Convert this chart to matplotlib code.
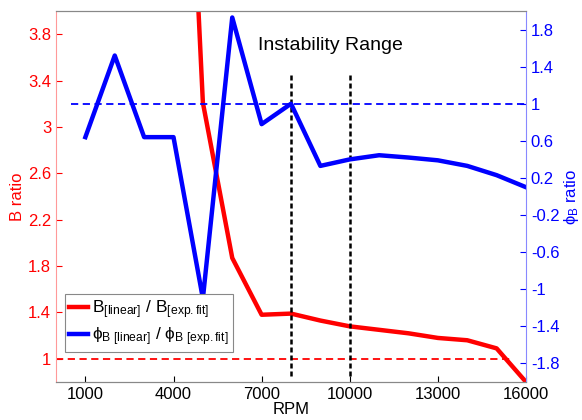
import numpy as np
import matplotlib
matplotlib.use("Agg")
import matplotlib.pyplot as plt

plt.rcParams['font.family'] = ['Liberation Sans', 'DejaVu Sans']
plt.rcParams['mathtext.fontset'] = 'custom'
plt.rcParams['mathtext.rm'] = 'Liberation Sans'
plt.rcParams['mathtext.it'] = 'Liberation Sans'

rpm = [1000, 2000, 3000, 4000, 5000, 6000, 7000, 8000,
       9000, 10000, 11000, 12000, 13000, 14000, 15000, 16000]
# B ratio (left axis)
b_ratio = [None, None, None, 8.5, 3.21, 1.87, 1.38, 1.39,
           1.33, 1.28, 1.25, 1.22, 1.18, 1.16, 1.09, 0.8]
# phi_B ratio (right axis)
phi_ratio = [0.64, 1.52, 0.64, 0.64, -1.1, 1.93, 0.78, 1.0,
             0.33, 0.40, 0.445, 0.42, 0.39, 0.33, 0.23, 0.10]

left_ticks = [1, 1.4, 1.8, 2.2, 2.6, 3, 3.4, 3.8]
right_ticks = [-1.8, -1.4, -1, -0.6, -0.2, 0.2, 0.6, 1, 1.4, 1.8]
x_ticks = [1000, 4000, 7000, 10000, 13000, 16000]
instab = [8000, 10000]

red = '#ff0000'
blue = '#0000ff'

fig = plt.figure(figsize=(5.82, 4.2), dpi=100)
ax1 = fig.add_axes([56 / 582, 38 / 420, 470 / 582, 371 / 420])
ax2 = ax1.twinx()

rx = [r for r, v in zip(rpm, b_ratio) if v is not None]
rv = [v for v in b_ratio if v is not None]
l1, = ax1.plot(rx, rv, color=red, lw=3.2)
ax1.plot([0, 15500], [1, 1], color=red, lw=1.3, ls='--', dashes=(4, 2.5))
for xv in instab:
    ax1.plot([xv, xv], [0.85, 3.45], color='black', lw=1.8, ls='--', dashes=(2, 1.2))
ax1.text(9350, 3.7, 'Instability Range', ha='center', va='center', fontsize=14)

l2, = ax2.plot(rpm, phi_ratio, color=blue, lw=3.2)
ax2.plot([500, 16000], [1, 1], color=blue, lw=1.3, ls='--', dashes=(4, 2.5))

ax1.set_xlim(0, 16000)
ax1.set_ylim(0.8, 4.0)
ax2.set_ylim(-2, 2)
ax1.set_xticks(x_ticks)
ax1.set_xticklabels([str(t) for t in x_ticks])
ax1.set_yticks(left_ticks)
ax1.set_yticklabels(['%g' % t for t in left_ticks])
ax2.set_yticks(right_ticks)
ax2.set_yticklabels(['%g' % t for t in right_ticks])

ax1.tick_params(axis='x', direction='in', labelsize=12, length=4, colors='black')
ax1.tick_params(axis='y', direction='in', labelsize=12, length=4, colors=red)
ax2.tick_params(axis='y', direction='in', labelsize=12, length=4, colors=blue)
ax1.spines['left'].set_color('#ff9999')
ax2.spines['left'].set_visible(False)
ax2.spines['right'].set_color('#8888ff')
for ax in (ax1, ax2):
    ax.spines['top'].set_color('#888888')
    ax.spines['bottom'].set_color('#888888')
ax1.spines['right'].set_visible(False)

ax1.set_xlabel('RPM', fontsize=12, labelpad=0)
ax1.set_ylabel('B ratio', color=red, fontsize=12, labelpad=2)
ax2.set_ylabel(r'$\mathregular{\phi_B}$ ratio', color=blue, fontsize=12, labelpad=2)

leg = ax2.legend([l1, l2],
                 [r'$\mathregular{B_{[linear]}}$ / $\mathregular{B_{[exp.fit]}}$',
                  r'$\mathregular{\phi_{B\ [linear]}}$ / $\mathregular{\phi_{B\ [exp.fit]}}$'],
                 loc='lower left', bbox_to_anchor=(9 / 470, 30 / 371),
                 fontsize=12.5, handlelength=1.1, handletextpad=0.2,
                 borderpad=0.25, labelspacing=0.25, fancybox=False,
                 framealpha=1, edgecolor='#888888', borderaxespad=0)
leg.get_frame().set_linewidth(0.8)

fig.savefig('out.png', dpi=100)
